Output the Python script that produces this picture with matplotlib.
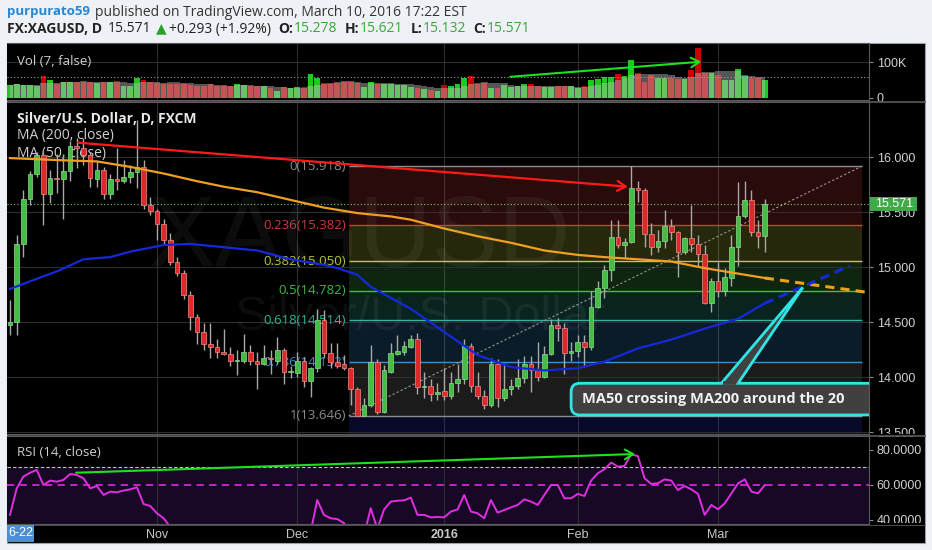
import numpy as np
import pandas as pd
import matplotlib
matplotlib.use('Agg')
import matplotlib.pyplot as plt
import matplotlib.transforms as mtransforms
from matplotlib.patches import Rectangle, FancyBboxPatch, Polygon

plt.rcParams['font.family'] = ['Open Sans', 'DejaVu Sans']

# ---- values: FXCM XAGUSD daily, Oct 1 2015 .. Mar 10 2016 ----
opens = [14.47, 14.50, 15.21, 15.62, 15.85, 16.02, 15.66, 15.81, 15.80, 15.87,
         16.10, 16.08, 16.02, 15.80, 15.88, 15.66, 15.80, 15.78, 15.82, 15.86,
         15.91, 15.56, 15.51, 15.39, 15.25, 15.05, 14.95, 14.75, 14.55, 14.41,
         14.30, 14.27, 14.23, 14.21, 14.15, 14.15, 14.23, 14.15, 14.12, 14.17,
         14.15, 14.25, 14.05, 14.04, 14.15, 13.96, 14.08, 14.52, 14.22, 14.14,
         14.12, 14.08, 13.89, 13.65, 13.75, 14.14, 13.68, 14.05, 14.21, 14.23,
         14.27, 14.35, 13.91, 13.92, 13.85, 13.87, 13.83, 13.95, 13.98, 14.28,
         13.92, 13.83, 13.75, 14.12, 13.81, 13.89, 13.92, 13.99, 14.12, 14.06,
         14.00, 14.21, 14.47, 14.45, 14.22, 14.24, 14.32, 14.27, 14.64, 14.81,
         14.97, 15.27, 15.20, 15.23, 15.72, 15.70, 15.30, 15.18, 15.24, 15.37,
         15.32, 15.14, 15.26, 15.21, 15.12, 14.67, 14.87, 14.78, 14.90, 15.18,
         15.46, 15.61, 15.32, 15.278]
highs = [14.70, 15.29, 15.70, 15.87, 16.05, 16.05, 15.88, 16.03, 16.03, 16.15,
         16.17, 16.17, 16.05, 15.96, 15.91, 15.85, 16.08, 15.97, 15.93, 16.34,
         15.97, 15.64, 15.53, 15.44, 15.31, 15.09, 14.97, 14.78, 14.57, 14.49,
         14.49, 14.35, 14.44, 14.27, 14.25, 14.39, 14.29, 14.23, 14.29, 14.25,
         14.36, 14.26, 14.10, 14.23, 14.18, 14.09, 14.62, 14.61, 14.31, 14.31,
         14.20, 14.09, 13.91, 13.81, 14.29, 14.16, 14.11, 14.31, 14.38, 14.33,
         14.38, 14.40, 14.05, 13.98, 13.95, 14.08, 14.05, 14.12, 14.35, 14.31,
         14.05, 13.88, 14.17, 14.16, 14.13, 13.98, 14.16, 14.19, 14.19, 14.32,
         14.28, 14.53, 14.54, 14.49, 14.32, 14.38, 14.38, 14.78, 14.87, 15.02,
         15.43, 15.43, 15.26, 15.918, 15.78, 15.72, 15.40, 15.34, 15.52, 15.44,
         15.33, 15.27, 15.56, 15.29, 15.20, 14.90, 15.05, 14.99, 15.29, 15.77,
         15.78, 15.70, 15.43, 15.621]
lows = [14.38, 14.38, 15.09, 15.56, 15.82, 15.38, 15.58, 15.67, 15.44, 15.78,
        15.90, 15.93, 15.73, 15.73, 15.62, 15.62, 15.70, 15.76, 15.76, 15.72,
        15.53, 15.47, 15.25, 15.20, 15.02, 14.92, 14.71, 14.43, 14.30, 14.25,
        14.17, 14.17, 14.20, 14.10, 14.02, 14.13, 14.11, 13.89, 14.11, 14.03,
        14.12, 13.94, 13.99, 14.00, 13.91, 13.82, 14.05, 14.17, 14.08, 14.08,
        14.06, 13.75, 13.646, 13.646, 13.73, 13.66, 13.67, 14.04, 14.20, 14.20,
        14.26, 13.85, 13.81, 13.78, 13.79, 13.79, 13.80, 13.86, 13.94, 13.86,
        13.80, 13.71, 13.73, 13.73, 13.78, 13.84, 13.89, 13.95, 13.86, 13.96,
        13.99, 14.20, 14.33, 14.03, 14.15, 14.18, 14.09, 14.25, 14.63, 14.72,
        14.87, 15.17, 15.08, 15.22, 15.59, 15.18, 15.11, 15.14, 15.17, 15.25,
        14.91, 15.12, 15.14, 15.00, 14.66, 14.59, 14.73, 14.74, 14.83, 15.01,
        15.45, 15.28, 15.17, 15.132]
closes = [14.50, 15.21, 15.62, 15.85, 16.02, 15.66, 15.81, 15.80, 15.87, 16.10,
          16.08, 16.02, 15.81, 15.88, 15.66, 15.80, 15.78, 15.82, 15.86, 15.91,
          15.56, 15.51, 15.39, 15.25, 15.05, 14.95, 14.75, 14.55, 14.41, 14.30,
          14.27, 14.23, 14.21, 14.15, 14.15, 14.23, 14.15, 14.12, 14.17, 14.16,
          14.25, 14.05, 14.05, 14.15, 13.96, 14.08, 14.52, 14.22, 14.14, 14.10,
          14.08, 13.89, 13.65, 13.75, 14.14, 13.68, 14.06, 14.22, 14.24, 14.28,
          14.35, 13.91, 13.92, 13.85, 13.86, 13.83, 13.95, 13.98, 14.28, 13.92,
          13.83, 13.75, 14.12, 13.81, 13.89, 13.92, 13.99, 14.12, 14.06, 14.00,
          14.21, 14.47, 14.45, 14.22, 14.24, 14.32, 14.27, 14.64, 14.81, 14.97,
          15.27, 15.20, 15.23, 15.72, 15.70, 15.30, 15.18, 15.24, 15.37, 15.32,
          15.14, 15.26, 15.21, 15.12, 14.67, 14.87, 14.78, 14.91, 15.18, 15.46,
          15.61, 15.32, 15.278, 15.571]
volume_k = [36, 39, 36, 36, 33, 61, 50, 40, 45, 45,
            45, 45, 45, 42, 45, 45, 47, 33, 33, 55,
            50, 45, 42, 40, 40, 40, 39, 36, 33, 33,
            40, 33, 33, 33, 38, 36, 33, 33, 33, 26,
            20, 29, 26, 29, 29, 67, 57, 42, 40, 42,
            45, 45, 42, 31, 45, 39, 40, 39, 36, 36,
            31, 26, 24, 22, 20, 36, 33, 40, 57, 61,
            40, 42, 26, 26, 36, 29, 33, 40, 40, 33,
            29, 29, 33, 33, 33, 26, 33, 50, 52, 59,
            59, 67, 61, 106, 69, 45, 64, 57, 57, 57,
            52, 52, 78, 139, 71, 69, 64, 50, 50, 80,
            61, 57, 55, 50]
rsi = [43, 58, 64.8, 67, 68.6, 60, 62.5, 61.9, 62.9, 66.3,
       65.7, 63.8, 58.1, 59.4, 54.3, 56.2, 55.8, 56.8, 57.5, 58.7,
       49.1, 48, 43.8, 41, 36, 33, 29, 25, 23, 21,
       21, 20, 20, 19, 19, 22, 21, 21, 23, 23,
       27, 24, 24, 28, 26, 33, 51.4, 42.9, 41, 40.5,
       38.2, 32, 27, 31, 46.7, 35, 46, 50.5, 51, 51.2,
       52.8, 42.9, 42.9, 41.5, 41.7, 41.5, 44.8, 46, 54.3, 44.8,
       43.8, 41, 51.4, 44.2, 45.7, 47.2, 48.6, 51.8, 50.5, 48.6,
       54.3, 60, 60, 52.4, 52.4, 54.9, 53.7, 62.5, 66.7, 69,
       72.8, 70.5, 70.9, 77.5, 76.5, 63.8, 60.6, 61, 63.2, 62.5,
       57.1, 59.4, 57.5, 54.9, 42.9, 48.6, 46.1, 49.5, 55.2, 60.9,
       63.2, 56.2, 55.2, 60]

ma200_idx = [0, 8, 13, 18, 23, 28, 32, 37, 42, 47, 52, 57, 60, 65, 70, 75, 80, 85,
             89, 94, 99, 104, 109, 113]
ma200_val = [15.99, 15.97, 15.96, 15.91, 15.85, 15.78, 15.73, 15.68, 15.61, 15.54,
             15.49, 15.46, 15.43, 15.35, 15.28, 15.22, 15.15, 15.11, 15.09, 15.07,
             15.05, 14.99, 14.94, 14.90]
ma50_idx = [0, 3, 7, 11, 15, 18, 23, 27, 32, 37, 42, 47, 49, 52, 54, 57, 60, 65, 70,
            75, 80, 85, 89, 94, 99, 104, 109, 113]
ma50_val = [14.80, 14.87, 14.96, 15.07, 15.09, 15.14, 15.20, 15.21, 15.18, 15.15,
            15.07, 15.02, 14.99, 14.93, 14.82, 14.72, 14.62, 14.41, 14.20, 14.09,
            14.06, 14.08, 14.14, 14.26, 14.34, 14.44, 14.53, 14.67]
ma200_proj_x, ma200_proj_y = [113, 128.3], [14.90, 14.77]
ma50_proj_x, ma50_proj_y = [113, 125.7], [14.67, 15.01]

# drawings made on the chart
red_trend_x, red_trend_y = [10.2, 92.5], [16.13, 15.73]
vol_trend_x, vol_trend_y = [74.9, 103.5], [59, 101.7]
rsi_trend_x, rsi_trend_y = [9.9, 93.6], [67, 77.7]
fib_high, fib_low = 15.918, 13.646
fib_x = [50.7, 127.6]
fib_levels = [0, 0.236, 0.382, 0.5, 0.618, 0.786, 1]
fib_line_colors = ['#8c8c8c', '#d63a3a', '#c8c83c', '#4cbb4c', '#2fb5a0', '#3b8fd0', '#8c8c8c']
fib_text_colors = ['#8c8c8c', '#c83a46', '#b4bf3c', '#3fb83f', '#2bb597', '#3d8fd0', '#8c8c8c']
note_text = 'MA50 crossing MA200 around the 20'

dates = pd.bdate_range('2015-10-01', '2016-03-10')
dates = dates[~dates.isin(pd.to_datetime(['2015-12-25', '2016-01-01']))]
n = len(dates)
x = np.arange(n)
pos = pd.Series(x, index=dates)
month_first = pos.groupby([dates.year, dates.month]).first().values[1:]
month_labels = ['Nov', 'Dec', '2016', 'Feb', 'Mar']

o = np.array(opens); h = np.array(highs); l = np.array(lows); c = np.array(closes)
up = c >= o

# ---- layout (pixel based) ----
W, H = 932, 550
fig = plt.figure(figsize=(W / 100, H / 100), dpi=100)
fig.patch.set_facecolor('#eef1f5')


def fig_box(x0, y0, x1, y1):
    return [x0 / W, 1 - y1 / H, (x1 - x0) / W, (y1 - y0) / H]


fig.add_artist(Rectangle((7 / W, 1 - 543 / H), 918 / W, 500 / H, transform=fig.transFigure,
                         facecolor='black', edgecolor='#a0a0a0', lw=0.8, zorder=-1))

ax_v = fig.add_axes(fig_box(7, 43, 869, 100))
ax_p = fig.add_axes(fig_box(7, 102, 869, 434))
ax_r = fig.add_axes(fig_box(7, 436, 869, 524))

for ax in (ax_v, ax_p, ax_r):
    ax.set_facecolor('black')
    ax.set_xlim(-0.45, 128.6)
    for s in ax.spines.values():
        s.set_color('#5a5a5a')
        s.set_linewidth(0.8)
    ax.spines['left'].set_visible(False)
    ax.yaxis.tick_right()
    ax.tick_params(axis='y', colors='#8a8a8a', labelcolor='#d0d0d0', labelsize=9,
                   length=3, width=0.8, pad=2.5)
    ax.tick_params(axis='x', length=0)
    for m in month_first:
        ax.axvline(m, color='#2e2e2e', lw=0.8, zorder=0.5)

ax_v.set_xticks([])
ax_p.set_xticks([])

# ---- volume pane ----
ax_v.set_ylim(-6.5, 154.5)
ax_v.set_yticks([0, 100], ['0', '100K'])
ax_v.axhline(100, color='#2e2e2e', lw=0.8, zorder=0.5)
ax_v.bar(x, volume_k, width=0.85, color=np.where(up, '#1ec81e', '#c80000'), zorder=2)
ma7 = pd.Series(volume_k, dtype=float).rolling(7, min_periods=1).mean()
ax_v.fill_between(x, 0, ma7, step='mid', color='#bebebe', alpha=0.45, lw=0, zorder=3)
ax_v.axhline(ma7.iloc[-1], color='#9a9a9a', ls=(0, (1, 2)), lw=0.8, zorder=4)
ax_v.annotate('', xy=(vol_trend_x[1], vol_trend_y[1]), xytext=(vol_trend_x[0], vol_trend_y[0]),
              arrowprops=dict(arrowstyle='->,head_length=0.6,head_width=0.35', color='#1ee11e',
                              lw=1.5, shrinkA=0, shrinkB=0), zorder=5)
ax_v.text(0.0116, 0.68, 'Vol (7, false)', transform=ax_v.transAxes, color='#cfcfcf',
          fontsize=9.5, va='center', zorder=6)

# ---- price pane ----
ax_p.set_ylim(13.482, 16.5)
pticks = [13.5, 14.0, 14.5, 15.0, 15.5, 16.0]
ax_p.set_yticks(pticks, [f'{t:.3f}' for t in pticks])
for t in pticks:
    ax_p.axhline(t, color='#2e2e2e', lw=0.8, zorder=1.5)

# fibonacci retracement
rng = fib_high - fib_low
fib_prices = [fib_high - lv * rng for lv in fib_levels]
for k, (lv, pr) in enumerate(zip(fib_levels, fib_prices)):
    if k > 0:
        ax_p.fill_between(fib_x, fib_prices[k - 1], pr, color=fib_line_colors[k], alpha=0.2,
                          lw=0, zorder=1)
    ax_p.hlines(pr, fib_x[0], fib_x[1], color=fib_line_colors[k], lw=1, zorder=2)
    ax_p.text(fib_x[0] - 0.35, pr, f'{lv:g}({pr:.3f})', color=fib_text_colors[k], fontsize=9.5,
              ha='right', va='center', zorder=2)
ax_p.fill_between(fib_x, fib_low, 13.0, color='#2a2ad0', alpha=0.2, lw=0, zorder=1)
ax_p.plot(fib_x, [fib_low, fib_high], color='#9a9a9a', ls=(0, (2, 2)), lw=0.8, zorder=2)

# watermark
ax_p.text(52.4, 15.245, 'XAGUSD', fontsize=72, color='white', alpha=0.05, ha='center',
          va='center', fontfamily='Liberation Sans', zorder=1.6)
ax_p.text(61.4, 14.54, 'Silver/U.S. Dollar', fontsize=35, color='white', alpha=0.05,
          ha='center', va='center', fontfamily='Liberation Sans', zorder=1.6)

# legend
ax_p.text(0.0116, 0.949, 'Silver/U.S. Dollar, D, FXCM', transform=ax_p.transAxes,
          color='#e8e8e8', fontsize=10, fontweight='bold', va='center', zorder=1.8)
ax_p.text(0.0116, 0.898, 'MA (200, close)', transform=ax_p.transAxes, color='#cfcfcf',
          fontsize=10, va='center', zorder=1.8)
ax_p.text(0.0116, 0.846, 'MA (50, close)', transform=ax_p.transAxes, color='#cfcfcf',
          fontsize=10, va='center', zorder=1.8)

# candles
ax_p.vlines(x, l, h, color='#a8a8a8', lw=1, zorder=3)
body = np.maximum(np.abs(c - o), 0.008)
ax_p.bar(x, body, bottom=np.minimum(o, c), width=0.7,
         color=np.where(up, '#44bd44', '#dc2a2a'),
         edgecolor=np.where(up, '#8fd88f', '#f08a8a'), lw=0.5, zorder=4)

# moving averages
ax_p.plot(ma200_idx, ma200_val, color='#f0a020', lw=1.6, zorder=5)
ax_p.plot(ma50_idx, ma50_val, color='#1428dc', lw=1.6, zorder=5)
ax_p.plot(ma200_proj_x, ma200_proj_y, color='#f0a020', lw=2.2, ls=(0, (3, 2)), zorder=5)
ax_p.plot(ma50_proj_x, ma50_proj_y, color='#1428dc', lw=2.2, ls=(0, (3, 2)), zorder=5)

# last price line
ax_p.axhline(c[-1], color='#6fcf6f', ls=(0, (1, 2)), lw=0.8, zorder=3)

# red trend arrow
ax_p.annotate('', xy=(red_trend_x[1], red_trend_y[1]), xytext=(red_trend_x[0], red_trend_y[0]),
              arrowprops=dict(arrowstyle='->,head_length=0.6,head_width=0.35', color='#ff1a1a',
                              lw=1.6, shrinkA=0, shrinkB=0), zorder=6)

# callout
box_x0, box_x1, box_y0, box_y1 = 84.0, 135.0, 13.655, 13.943
tip = (118.7, 14.815)
base_l, base_r = 106.5, 109.0
ax_p.add_patch(FancyBboxPatch((box_x0, box_y0), box_x1 - box_x0, box_y1 - box_y0,
                              boxstyle='round,pad=0,rounding_size=1.3', mutation_aspect=0.0607,
                              facecolor='#404040', edgecolor='#2ee6e6', lw=2, zorder=6))
ax_p.add_patch(Polygon([(base_l, box_y1), tip, (base_r, box_y1)], closed=False,
                       facecolor='#404040', edgecolor='#2ee6e6', lw=2, zorder=6.5))
ax_p.plot([base_l + 0.25, base_r - 0.25], [box_y1, box_y1], color='#404040', lw=2.6,
          zorder=6.6, solid_capstyle='butt')
ax_p.text(85.6, 13.80, note_text, color='#f2f2f2', fontsize=10.5, fontweight='bold',
          va='center', ha='left', clip_on=True, zorder=7)

# last price label on the axis
trans = mtransforms.blended_transform_factory(ax_p.transAxes, ax_p.transData)
ax_p.add_patch(Rectangle((1.0015, c[-1] - 0.063), 0.054, 0.126, transform=trans,
                         facecolor='#3faa48', edgecolor='none', clip_on=False, zorder=10))
ax_p.text(1.0075, c[-1], f'{c[-1]:.3f}', transform=trans, color='white', fontsize=9,
          va='center', ha='left', fontfamily='Liberation Sans', clip_on=False, zorder=11)

# ---- RSI pane ----
ax_r.set_ylim(37.7, 88)
rticks = [40, 60, 80]
ax_r.set_yticks(rticks, [f'{t:.4f}' for t in rticks])
ax_r.axhspan(30, 70, color='#170826', zorder=0.3)
ax_r.axhline(70, color='#c0c0c0', ls=(0, (3, 2)), lw=0.8, zorder=2)
ax_r.axhline(60, color='#d426d4', ls=(0, (4, 3)), lw=1.3, zorder=2)
ax_r.plot(x, rsi, color='#e02ee0', lw=1.4, zorder=4)
ax_r.annotate('', xy=(rsi_trend_x[1], rsi_trend_y[1]), xytext=(rsi_trend_x[0], rsi_trend_y[0]),
              arrowprops=dict(arrowstyle='->,head_length=0.6,head_width=0.35', color='#1ee11e',
                              lw=1.5, shrinkA=0, shrinkB=0), zorder=5)
ax_r.text(0.0116, 0.807, 'RSI (14, close)', transform=ax_r.transAxes, color='#cfcfcf',
          fontsize=9.5, va='center', zorder=6)

ax_r.set_xticks(month_first, month_labels)
ax_r.tick_params(axis='x', colors='#c8c8c8', labelsize=9, pad=3.6)
for lab in ax_r.get_xticklabels():
    lab.set_fontfamily('Liberation Sans')
    if lab.get_text() == '2016':
        lab.set_fontweight('bold')

for ax in (ax_v, ax_p, ax_r):
    for lab in ax.get_yticklabels():
        lab.set_fontfamily('Liberation Sans')

# mask labels that spill over pane edges on the price scale
fig.add_artist(Rectangle((869.5 / W, 1 - 543 / H), 55 / W, 20 / H, transform=fig.transFigure,
                         facecolor='black', edgecolor='none', zorder=5))
fig.add_artist(Rectangle((869.5 / W, 1 - 436 / H), 55 / W, 2 / H, transform=fig.transFigure,
                         facecolor='black', edgecolor='none', zorder=5))
for yy in (100.5, 101.5, 434.5, 435.5, 524.5):
    fig.add_artist(plt.Line2D([7 / W, 925 / W], [1 - yy / H, 1 - yy / H], color='#5a5a5a',
                              lw=0.6, transform=fig.transFigure, zorder=6))

# crosshair date stub at the left of the time scale
fig.add_artist(Rectangle((7 / W, 1 - 542 / H), 27 / W, 17 / H, transform=fig.transFigure,
                         facecolor='#4d8fd1', edgecolor='none', zorder=6))
fig.text(8 / W, 1 - 533.5 / H, '6-22', color='white', fontsize=9, va='center', ha='left',
         fontfamily='Liberation Sans', zorder=7)

# ---- header (pieces chained left to right) ----
renderer = fig.canvas.get_renderer()


def head(px, py, s, color='#333333', weight='normal', size=10):
    t = fig.text(px / W, 1 - py / H, s, color=color, fontsize=size, fontweight=weight,
                 va='center', ha='left')
    return t.get_window_extent(renderer).x1


end = head(7, 12, 'purpurato59', color='#2a86d0', weight='bold', size=9.5)
head(end + 5, 12, 'published on TradingView.com, March 10, 2016 17:22 EST')

dark, green = '#222222', '#3aa53a'
chg = c[-1] - c[-2]
end = head(7, 29, 'FX:XAGUSD, D', color=dark, weight='bold')
end = head(end + 6, 29, f'{c[-1]:.3f}', color=dark)
end = head(end + 4, 29, '\u25b2', color='#2aa02a')
end = head(end + 3, 29, f'+{chg:.3f} (+{chg / c[-2] * 100:.2f}%)', color=dark)
for lab, val in (('O:', o[-1]), ('H:', h[-1]), ('L:', l[-1]), ('C:', c[-1])):
    end = head(end + 7, 29, lab, color=dark, weight='bold')
    end = head(end + 1, 29, f'{val:.3f}', color=green)

fig.savefig('out.png', dpi=100, facecolor=fig.get_facecolor())
